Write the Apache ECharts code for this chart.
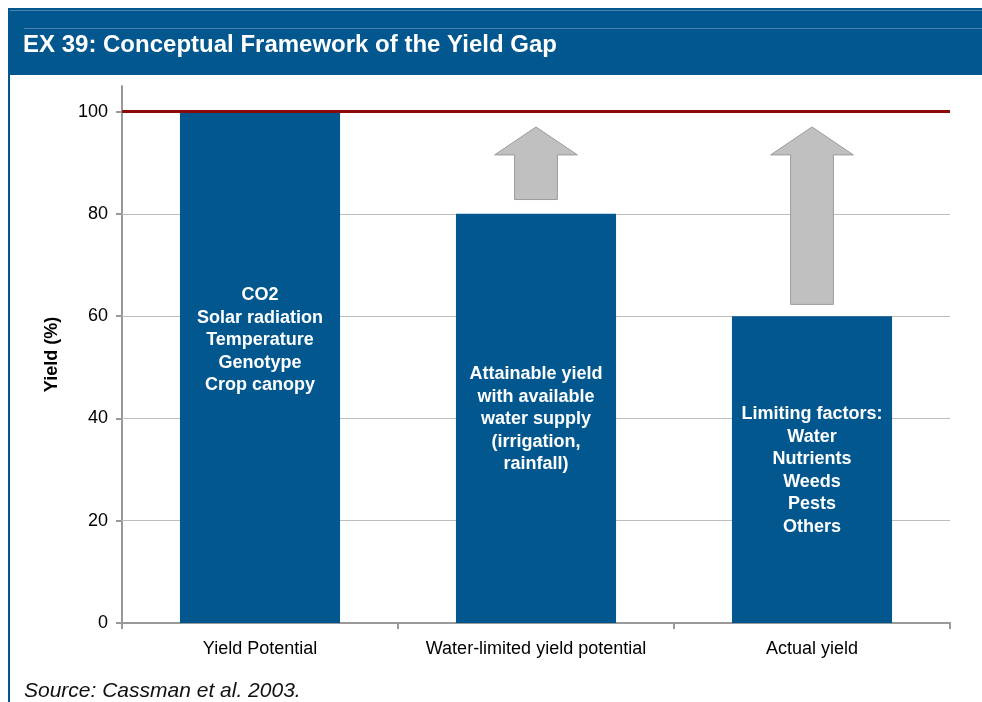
<!DOCTYPE html>
<html>
<head>
<meta charset="utf-8">
<script src="https://cdn.jsdelivr.net/npm/echarts@6/dist/echarts.min.js"></script>
<style>html,body{margin:0;padding:0;background:#fff}#c{width:982px;height:702px}</style>
</head>
<body>
<div id="c"></div>
<script>
var categories = ['Yield Potential', 'Water-limited yield potential', 'Actual yield'];
var yieldValues = [100, 80, 60];
var barTexts = [
  'CO2\nSolar radiation\nTemperature\nGenotype\nCrop canopy',
  'Attainable yield\nwith available\nwater supply\n(irrigation,\nrainfall)',
  'Limiting factors:\nWater\nNutrients\nWeeds\nPests\nOthers'
];
var arrowFrom = [null, 82.8, 62.3];
var arrowTo = [null, 97, 97];
var gridValues = [20, 40, 60, 80];
var potentialLine = 100;
var yTicks = [0, 20, 40, 60, 80, 100];

var BLUE = '#03578F';
var FONT = '"Liberation Sans", Arial, sans-serif';
var chart = echarts.init(document.getElementById('c'), null, {renderer: 'canvas'});

var arrowData = [];
for (var i = 0; i < categories.length; i++) {
  if (arrowFrom[i] != null) arrowData.push([i, arrowFrom[i], arrowTo[i]]);
}

var option = {
  animation: false,
  textStyle: {fontFamily: FONT},
  graphic: [
    {type: 'rect', shape: {x: 8, y: 8, width: 974, height: 67}, style: {fill: BLUE}, z: 0},
    {type: 'rect', shape: {x: 10, y: 10, width: 972, height: 1}, style: {fill: '#4F7FAD'}, z: 1},
    {type: 'rect', shape: {x: 24, y: 28, width: 958, height: 1}, style: {fill: '#4F7FAD'}, z: 1},
    {type: 'rect', shape: {x: 8, y: 75, width: 2, height: 627}, style: {fill: BLUE}, z: 0},
    {type: 'text', x: 23, y: 45, style: {text: 'EX 39: Conceptual Framework of the Yield Gap', fill: '#fff', font: 'bold 24px ' + FONT, verticalAlign: 'middle'}, z: 2},
    {type: 'text', x: 24, y: 691, style: {text: 'Source: Cassman et al. 2003.', fill: '#111', font: 'italic 21px ' + FONT, verticalAlign: 'middle'}, z: 2}
  ],
  grid: {left: 122, right: 32, top: 86, bottom: 79},
  xAxis: {
    type: 'category',
    data: categories,
    axisLine: {lineStyle: {color: '#999', width: 2}},
    axisTick: {show: true, interval: 0, length: 6, lineStyle: {color: '#999', width: 2}},
    axisLabel: {color: '#000', fontSize: 18, margin: 17, interval: 0, hideOverlap: false}
  },
  yAxis: {
    type: 'value',
    min: 0,
    max: 105,
    name: 'Yield (%)',
    nameLocation: 'middle',
    nameGap: 61,
    nameTextStyle: {color: '#000', fontSize: 18, fontWeight: 'bold'},
    axisLine: {show: true, lineStyle: {color: '#999', width: 2}},
    axisTick: {show: true, length: 6, customValues: yTicks, lineStyle: {color: '#999', width: 2}},
    axisLabel: {color: '#000', fontSize: 18, margin: 14, customValues: yTicks},
    splitLine: {show: false}
  },
  series: [
    {
      type: 'line',
      data: [],
      z: 1,
      silent: true,
      markLine: {
        silent: true,
        z: 1,
        symbol: 'none',
        label: {show: false},
        lineStyle: {color: '#BDBDBD', width: 1, type: 'solid'},
        data: gridValues.map(function (v) { return {yAxis: v}; })
      }
    },
    {
      type: 'bar',
      data: yieldValues.map(function (v, i) {
        return {
          value: v,
          label: {
            show: true,
            position: 'inside',
            formatter: barTexts[i],
            offset: i === 0 ? [0, -27] : [0, 1]
          }
        };
      }),
      barWidth: '58%',
      z: 2,
      itemStyle: {color: BLUE},
      label: {color: '#fff', fontSize: 18, fontWeight: 'bold', lineHeight: 22.5, align: 'center'}
    },
    {
      type: 'custom',
      z: 3,
      data: arrowData,
      encode: {x: 0, y: [1, 2]},
      renderItem: function (params, api) {
        var x = api.value(0);
        var bottom = api.coord([x, api.value(1)]);
        var top = api.coord([x, api.value(2)]);
        var bw = api.size([1, 0])[0];
        var cx = bottom[0];
        var headW = bw * 0.30 / 2;
        var shaftW = bw * 0.155 / 2;
        var headH = 28;
        var ty = top[1], by = bottom[1];
        return {
          type: 'polygon',
          shape: {points: [
            [cx, ty], [cx + headW, ty + headH], [cx + shaftW, ty + headH], [cx + shaftW, by],
            [cx - shaftW, by], [cx - shaftW, ty + headH], [cx - headW, ty + headH]
          ]},
          style: {fill: '#C0C0C0', stroke: '#9A9A9A', lineWidth: 1}
        };
      },
      markLine: {
        silent: true,
        z: 5,
        symbol: 'none',
        label: {show: false},
        lineStyle: {color: '#8B0A0A', width: 3, type: 'solid'},
        data: [{yAxis: potentialLine}]
      }
    }
  ]
};
chart.setOption(option);
</script>
</body>
</html>
